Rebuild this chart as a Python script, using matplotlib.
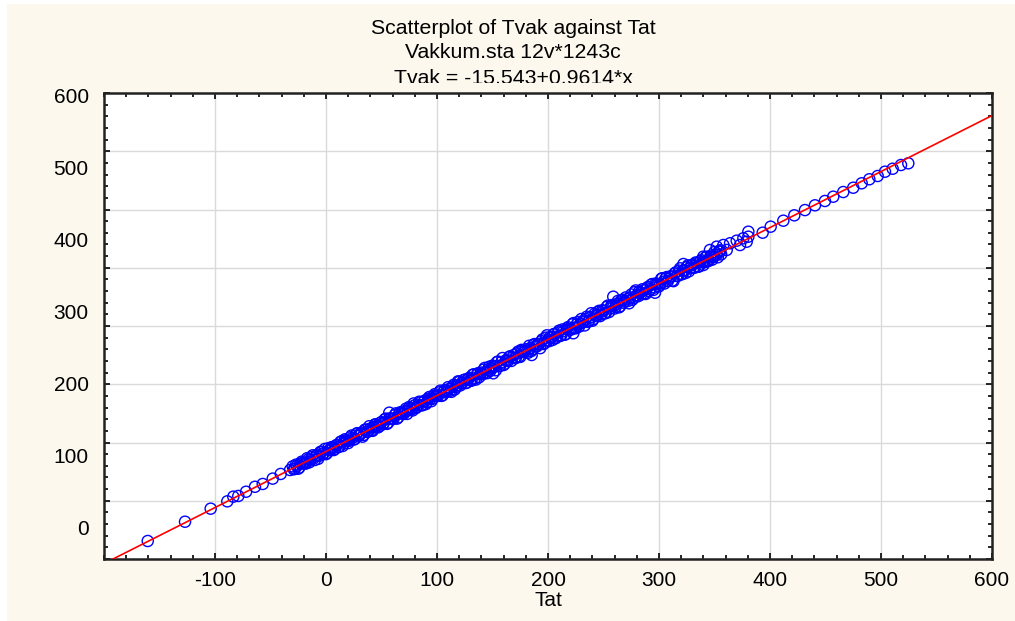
"""
Scatterplot of Tvak against Tat (Vakkum.sta) with fitted regression line.
"""
import matplotlib
matplotlib.use('Agg')
import matplotlib.pyplot as plt
from matplotlib.patches import Rectangle
from matplotlib.ticker import MultipleLocator
import numpy as np

plt.rcParams['font.family'] = ['Liberation Sans', 'DejaVu Sans']

# ── data ─────────────────────────────────────────────────────────────────────
# sparse points at the low end
tat_low = [-160.6, -127, -103.9, -88.9, -83.5, -79, -72, -64, -57, -48, -40.8, -32.4]
tvak_low = [-169.1, -136, -113.6, -101, -93, -91.8, -84.5, -76, -71.2, -62, -54, -47.2]

# dense band (even Tat)
tat_band = list(range(-30, 358, 2))
tvak_band = [
    -41, -45, -40, -43, -33, -35, -36, -29, -30, -22,
    -30, -21, -23, -16, -18, -20, -10, -13, -9, -11,
    -4, -7, 2, -2, 3, -1, 9, 8, 6, 16,
    12, 17, 13, 22, 19, 24, 20, 31, 29, 28,
    35, 33, 41, 34, 41, 40, 47, 41, 50, 50,
    49, 58, 55, 59, 55, 64, 61, 70, 64, 70,
    66, 75, 75, 75, 83, 80, 86, 80, 87, 86,
    95, 89, 96, 91, 98, 104, 101, 107, 102, 109,
    107, 116, 110, 117, 112, 120, 125, 121, 125, 123,
    132, 130, 138, 131, 138, 133, 141, 140, 148, 146,
    145, 153, 148, 159, 155, 160, 154, 162, 160, 169,
    165, 169, 174, 169, 180, 176, 181, 176, 186, 182,
    192, 184, 191, 186, 198, 194, 203, 197, 203, 199,
    212, 207, 212, 207, 215, 209, 221, 217, 226, 220,
    226, 222, 235, 230, 236, 230, 238, 232, 244, 240,
    249, 243, 249, 245, 258, 253, 259, 254, 261, 255,
    267, 263, 272, 266, 272, 268, 281, 276, 282, 277,
    285, 278, 290, 286, 295, 289, 295, 291, 304, 299,
    305, 300, 308, 302, 313, 309, 318, 312, 318, 314,
    327, 322, 328, 323,
]

# dense band (odd Tat)
tat_band2 = list(range(-29, 357, 2))
tvak_band2 = [
    -46, -38, -45, -36, -36, -36, -27, -34, -25, -27,
    -23, -28, -16, -20, -11, -18, -13, -8, -13, -5,
    -8, 1, -6, 3, 3, 3, 12, 5, 14, 11,
    15, 10, 22, 18, 28, 21, 26, 31, 26, 34,
    31, 40, 32, 41, 41, 41, 50, 43, 52, 50,
    54, 49, 61, 57, 67, 59, 64, 69, 64, 72,
    69, 78, 71, 80, 80, 80, 89, 81, 90, 88,
    92, 87, 99, 95, 105, 98, 103, 108, 103, 111,
    106, 117, 108, 119, 118, 117, 128, 119, 130, 127,
    131, 124, 139, 132, 145, 135, 141, 147, 140, 150,
    145, 156, 147, 158, 157, 156, 166, 157, 168, 165,
    169, 162, 177, 171, 184, 174, 180, 186, 179, 189,
    183, 194, 185, 196, 195, 194, 205, 196, 207, 204,
    208, 201, 216, 209, 222, 212, 218, 224, 217, 227,
    222, 233, 224, 235, 234, 233, 243, 234, 245, 242,
    246, 239, 254, 248, 261, 251, 257, 263, 256, 265,
    260, 271, 262, 273, 272, 271, 282, 273, 284, 281,
    285, 277, 292, 286, 299, 289, 295, 301, 294, 304,
    300, 309, 302, 311, 310, 310, 319, 312, 321, 319,
    323, 318, 330,
]

# stray points around the band
tat_mid = [17.1, 57, 150.7, 185.3, 222.8, 258.8, 296.4, 322, 340,
           339.9, 345.9, 352, 358, 364, 370, 376, 355, 343, 361, 373, 379]
tvak_mid = [5.5, 51.2, 118.8, 150.2, 187.5, 250.3, 257.2, 306.4, 304.7,
            319.0, 330.5, 336.2, 339.1, 342, 346.5, 350.6, 327.6, 310.4, 330.5, 339, 344.7]

# sparse points at the high end
tat_high = [380.5, 380.5, 393.4, 400.6, 412, 421.9, 431.5, 440.5, 449.5, 457,
            466, 475, 482.6, 489.5, 497, 503.6, 510.5, 518, 524.6]
tvak_high = [361.9, 353.3, 360.2, 370.5, 380.8, 390, 399, 407.2, 414.6, 422,
             430, 437.4, 445, 451.9, 457.5, 464.9, 470, 476.4, 479.3]

intercept, slope = -15.543, 0.9614

tat = np.array(tat_low + tat_band + tat_band2 + tat_mid + tat_high, dtype=float)
tvak = np.array(tvak_low + tvak_band + tvak_band2 + tvak_mid + tvak_high, dtype=float)

y_labels = [0, 100, 200, 300, 400, 500, 600]

CREAM = '#FDF8EE'

# ── figure ───────────────────────────────────────────────────────────────────
W, H = 1015, 621
fig = plt.figure(figsize=(W / 100, H / 100), dpi=100)
fig.patch.set_facecolor('white')
fig.patches.append(Rectangle((7 / W, 0), 1 - 7 / W, 1 - 4 / H,
                             transform=fig.transFigure, facecolor=CREAM,
                             edgecolor='none', zorder=-5))

pos = [104 / W, (H - 559) / H, 888 / W, 466 / H]
ax = fig.add_axes(pos, zorder=2)
ax.set_facecolor('white')
ax.set_xlim(-200, 600)
ax.set_ylim(-200, 600)

ax.xaxis.set_major_locator(MultipleLocator(100))
ax.xaxis.set_minor_locator(MultipleLocator(20))
ax.yaxis.set_major_locator(MultipleLocator(100))
ax.yaxis.set_minor_locator(MultipleLocator(20))
ax.grid(True, which='major', color='#DADADA', lw=1.0)
ax.set_axisbelow(True)

ax.tick_params(which='both', direction='in', top=True, right=True,
               color='black', width=1.2)
ax.tick_params(which='major', length=4)
ax.tick_params(which='minor', length=3)
ax.tick_params(axis='x', labelsize=15, pad=9)
ax.tick_params(axis='y', labelleft=False)
ax.set_xticks(range(-100, 700, 100))
ax.set_xticklabels([str(v) for v in range(-100, 700, 100)])
for s in ax.spines.values():
    s.set_linewidth(1.8)
    s.set_color('#222222')

ax.scatter(tat, tvak, s=64, facecolors='none', edgecolors='#0000FF',
           linewidths=1.0, zorder=3)
xs = np.array([-200, 600])
ax.plot(xs, intercept + slope * xs, color='#FF0000', lw=1.2, zorder=4)
ax.set_xlabel('Tat', fontsize=15, labelpad=0)

# y tick labels as drawn by the original program (own scale)
ax2 = fig.add_axes(pos, frameon=False, zorder=3)
ax2.patch.set_alpha(0)
ax2.set_ylim(-44.4, 602.8)
ax2.set_yticks(y_labels)
ax2.set_yticklabels([str(v) for v in y_labels])
ax2.tick_params(axis='y', length=0, labelsize=15, pad=11)
ax2.set_xticks([])

# titles
titles = ['Scatterplot of Tvak against Tat', 'Vakkum.sta 12v*1243c',
          'Tvak = -15.543+0.9614*x']
for i, t in enumerate(titles):
    fig.text(513 / W, 1 - (28 + 25 * i) / H, t, ha='center', va='center',
             fontsize=15.3, zorder=1)
# the last title line is cut off at its bottom, as in the original
fig.patches.append(Rectangle((0.3, (H - 93) / H), 0.4, 10.5 / H,
                             transform=fig.transFigure, facecolor=CREAM,
                             edgecolor='none', zorder=1.5))

fig.savefig('out.png', dpi=100, facecolor=fig.get_facecolor())
